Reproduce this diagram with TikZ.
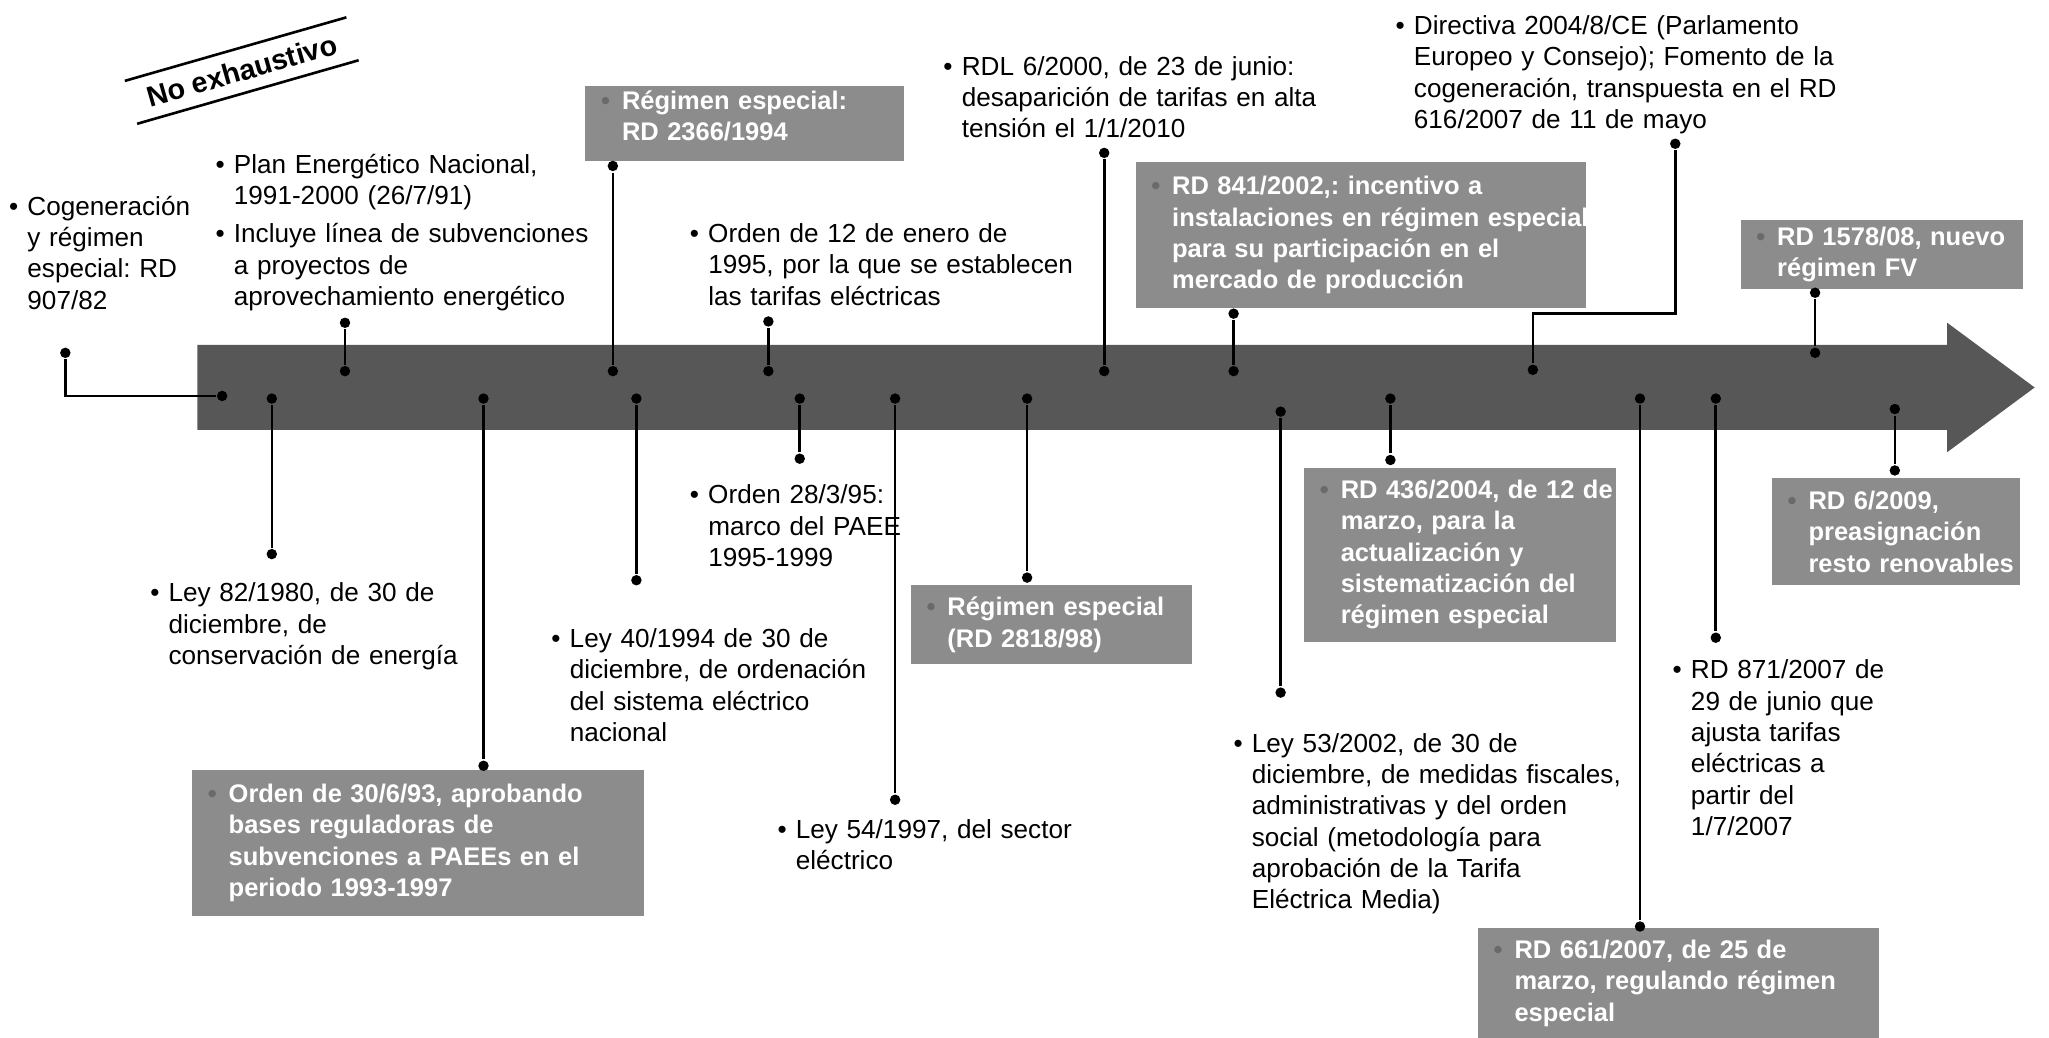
\documentclass[tikz,border=0pt]{standalone}
\usepackage{fontspec}
\setmainfont{Liberation Sans}
\usetikzlibrary{shapes.arrows}
\definecolor{ejegray}{HTML}{575757}
\definecolor{boxgray}{HTML}{8C8C8C}
\definecolor{bulgray}{HTML}{6A6A6A}
\frenchspacing
\newcommand{\bul}{\leftskip=7pt\rightskip=-30pt plus 1fil\noindent\hspace*{-7pt}\makebox[7pt][l]{\textbullet}}
\newcommand{\bbul}{\leftskip=14pt\rightskip=-30pt plus 1fil\noindent\hspace*{-8pt}\makebox[8pt][l]{\textcolor{bulgray}{\textbullet}}}
\begin{document}
\begin{tikzpicture}[
        x=0.5pt, y=-0.5pt,
        line width=1pt,
        font=\fontsize{10}{12}\selectfont
    ]
    \tikzset{
        txt/.style = {anchor=north west, inner sep=0pt, text width=200pt, align=left},
        gbox/.style 2 args = {anchor=north west, fill=boxgray, inner xsep=0pt, inner ysep=0pt,
            text width=#1, minimum height=#2, align=left, text=white,
            font=\fontsize{9.75}{12}\selectfont\bfseries},
        dot/.style = {circle, fill=black, inner sep=0pt, minimum size=4pt},
        eje/.style = {single arrow, fill=ejegray, anchor=tail, inner xsep=0pt, inner ysep=15.75pt,
            minimum height=703pt, single arrow head extend=8.5pt,
            single arrow tip angle=73, single arrow head indent=0pt},
    }
    \useasboundingbox (0,0) rectangle (1568,794);
    \node[eje] (linea) at (150,296.5) {};
    %
    \node[rotate=16, font=\fontsize{11}{13}\selectfont\bfseries, inner xsep=6pt, inner ysep=4pt] (noex) at (185,54) {No exhaustivo};
    \draw (noex.north west) -- (noex.north east);
    \draw (noex.south west) -- (noex.south east);
    %
    \node[txt] (cogen) at (6,149) {\bul Cogeneración\\y régimen\\especial: RD\\907/82\par};
    \node[txt] (plan) at (164,117) {\bul Plan Energético Nacional,\\1991-2000 (26/7/91)\par\vspace{2.5pt}
        \bul Incluye línea de subvenciones\\a proyectos de\\aprovechamiento energético\par};
    \node[gbox={122pt}{28.5pt}] (r2366) at (447,65) {\bbul Régimen especial:\\RD 2366/1994\par\vspace{6pt}};
    \node[txt] (ord95) at (527,170) {\bul Orden de 12 de enero de\\1995, por la que se establecen\\las tarifas eléctricas\par};
    \node[txt] (rdl) at (721,42) {\bul RDL 6/2000, de 23 de junio:\\desaparición de tarifas en alta\\tensión el 1/1/2010\par};
    \node[gbox={172.5pt}{56pt}] (r841) at (868,123) {\bbul RD 841/2002,: incentivo a\\instalaciones en régimen especial\\para su participación en el\\mercado de producción\par};
    \node[txt] (dir) at (1067,11) {\bul Directiva 2004/8/CE (Parlamento\\Europeo y Consejo); Fomento de la\\cogeneración, transpuesta en el RD\\616/2007 de 11 de mayo\par};
    \node[gbox={108pt}{26.5pt}] (r1578) at (1331,167) {\bbul RD 1578/08, nuevo\\régimen FV\par};
    %
    \node[txt] (ley80) at (114,445) {\bul Ley 82/1980, de 30 de\\diciembre, de\\conservación de energía\par};
    \node[gbox={173pt}{56pt}] (ord93) at (146,588) {\bbul Orden de 30/6/93, aprobando\\bases reguladoras de\\subvenciones a PAEEs en el\\periodo 1993-1997\par};
    \node[txt] (ley94) at (421,480) {\bul Ley 40/1994 de 30 de\\diciembre, de ordenación\\del sistema eléctrico\\nacional\par};
    \node[txt] (ord2895) at (527,370) {\bul Orden 28/3/95:\\marco del PAEE\\1995-1999\par};
    \node[txt] (ley97) at (594,626) {\bul Ley 54/1997, del sector\\eléctrico\par};
    \node[gbox={107.5pt}{30pt}] (r2818) at (696,447) {\bbul Régimen especial\\(RD 2818/98)\par};
    \node[txt] (ley02) at (943,560) {\bul Ley 53/2002, de 30 de\\diciembre, de medidas fiscales,\\administrativas y del orden\\social (metodología para\\aprobación de la Tarifa\\Eléctrica Media)\par};
    \node[gbox={119.5pt}{66.5pt}] (r436) at (997,357) {\bbul RD 436/2004, de 12 de\\marzo, para la\\actualización y\\sistematización del\\régimen especial\par};
    \node[gbox={153.5pt}{42.5pt}] (r661) at (1130,709) {\bbul RD 661/2007, de 25 de\\marzo, regulando régimen\\especial\par};
    \node[txt] (rd871) at (1279,504) {\bul RD 871/2007 de\\29 de junio que\\ajusta tarifas\\eléctricas a\\partir del\\1/7/2007\par};
    \node[gbox={95pt}{41pt}] (r609) at (1355,365) {\bbul RD 6/2009,\\preasignación\\resto renovables\par};
    %
    \node[dot] (cg0) at (170,303) {};
    \node[dot] (cg1) at (50,270) {};
    \draw (cg0) -| (cg1);
    \node[dot] (pl0) at (264,284) {};
    \node[dot] (pl1) at (264,247) {};
    \draw (pl0) -- (pl1);
    \node[dot] (re0) at (469,284) {};
    \node[dot] (re1) at (469,127) {};
    \draw (re0) -- (re1);
    \node[dot] (oe0) at (588,284) {};
    \node[dot] (oe1) at (588,246) {};
    \draw (oe0) -- (oe1);
    \node[dot] (rl0) at (845,284) {};
    \node[dot] (rl1) at (845,117) {};
    \draw (rl0) -- (rl1);
    \node[dot] (ri0) at (944,284) {};
    \node[dot] (ri1) at (944,240) {};
    \draw (ri0) -- (ri1);
    \node[dot] (dv0) at (1173,283) {};
    \node[dot] (dv1) at (1282,110) {};
    \coordinate (dvk) at (1282,240);
    \draw (dv0) |- (dvk) -- (dv1);
    \node[dot] (fv0) at (1389,270) {};
    \node[dot] (fv1) at (1389,224) {};
    \draw (fv0) -- (fv1);
    %
    \node[dot] (lc0) at (208,305) {};
    \node[dot] (lc1) at (208,424) {};
    \draw (lc0) -- (lc1);
    \node[dot] (os0) at (370,305) {};
    \node[dot] (os1) at (370,586) {};
    \draw (os0) -- (os1);
    \node[dot] (lo0) at (487,305) {};
    \node[dot] (lo1) at (487,444) {};
    \draw (lo0) -- (lo1);
    \node[dot] (om0) at (612,305) {};
    \node[dot] (om1) at (612,351) {};
    \draw (om0) -- (om1);
    \node[dot] (ls0) at (685,305) {};
    \node[dot] (ls1) at (685,612) {};
    \draw (ls0) -- (ls1);
    \node[dot] (rb0) at (786,305) {};
    \node[dot] (rb1) at (786,442) {};
    \draw (rb0) -- (rb1);
    \node[dot] (lf0) at (980,315) {};
    \node[dot] (lf1) at (980,530) {};
    \draw (lf0) -- (lf1);
    \node[dot] (ra0) at (1064,305) {};
    \node[dot] (ra1) at (1064,352) {};
    \draw (ra0) -- (ra1);
    \node[dot] (rr0) at (1255,305) {};
    \node[dot] (rr1) at (1255,709) {};
    \draw (rr0) -- (rr1);
    \node[dot] (rt0) at (1313,305) {};
    \node[dot] (rt1) at (1313,488) {};
    \draw (rt0) -- (rt1);
    \node[dot] (rp0) at (1450,313) {};
    \node[dot] (rp1) at (1450,360) {};
    \draw (rp0) -- (rp1);
\end{tikzpicture}
\end{document}
